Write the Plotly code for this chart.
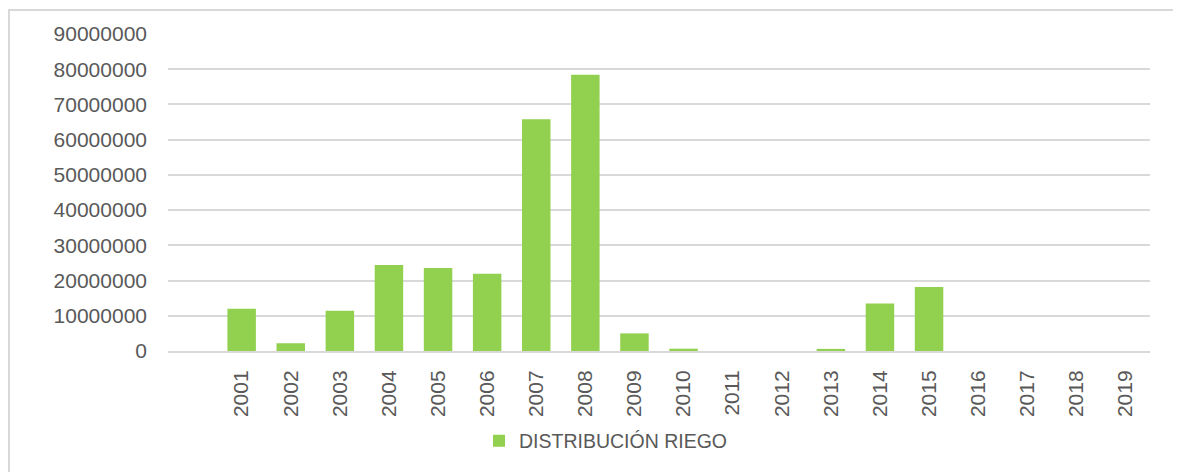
import plotly.graph_objects as go

categories = [" ", "2001", "2002", "2003", "2004", "2005", "2006", "2007", "2008", "2009",
              "2010", "2011", "2012", "2013", "2014", "2015", "2016", "2017", "2018", "2019"]
values = [None, 12000000, 2200000, 11400000, 24400000, 23600000, 21900000, 65800000, 78400000,
          5000000, 650000, 0, 0, 600000, 13500000, 18200000, 0, 0, 0, 0]
series_name = "DISTRIBUCIÓN RIEGO"
y_ticks = [0, 10000000, 20000000, 30000000, 40000000, 50000000, 60000000, 70000000, 80000000, 90000000]

W, H = 1181, 472
OFF = 8  # page body offset
# target page coordinates of plot area: left 168, right 1150, top 34, bottom 351
L, T = 168 - OFF, 34 - OFF
R = W - (1150 - OFF)
B = H - (351 - OFF)
pw, ph = W - L - R, H - T - B


def px_x(page_x):
    return (page_x - OFF - L) / pw


def px_y(page_y):
    return (H - B - (page_y - OFF)) / ph


font_family = "Liberation Sans, Arial, sans-serif"
txt = "#595959"
grid = "#d9d9d9"

fig = go.Figure()
fig.add_trace(go.Bar(
    x=categories, y=values, name=series_name,
    marker=dict(color="#92D050", line=dict(width=0)),
    showlegend=True,
))

fig.update_layout(
    width=W, height=H,
    margin=dict(l=L, r=R, t=T, b=B, pad=0),
    paper_bgcolor="white", plot_bgcolor="white",
    bargap=0.42,
    font=dict(family=font_family, size=21, color=txt),
    showlegend=True,
    legend=dict(orientation="h", x=px_x(479), xanchor="left",
                y=px_y(441), yanchor="middle",
                font=dict(size=19.5, color=txt), bgcolor="rgba(0,0,0,0)"),
    xaxis=dict(type="category", categoryorder="array", categoryarray=categories,
               tickangle=-90, showgrid=False, showline=True, linecolor=grid, linewidth=2,
               ticks="", ticklabelstandoff=9, tickfont=dict(size=21, color=txt)),
    yaxis=dict(range=[0, 90000000], tickvals=y_ticks, ticktext=[str(v) for v in y_ticks],
               showgrid=True, gridcolor=grid, gridwidth=2, zeroline=False,
               showline=False, ticks="", ticklabelstandoff=20,
               tickfont=dict(size=21, color=txt)),
    shapes=[dict(type="rect", xref="paper", yref="paper",
                 x0=px_x(9), x1=px_x(1200),
                 y0=px_y(500), y1=px_y(10),
                 line=dict(color=grid, width=2), fillcolor="rgba(0,0,0,0)", layer="below")],
)

fig.write_html("out.html")
